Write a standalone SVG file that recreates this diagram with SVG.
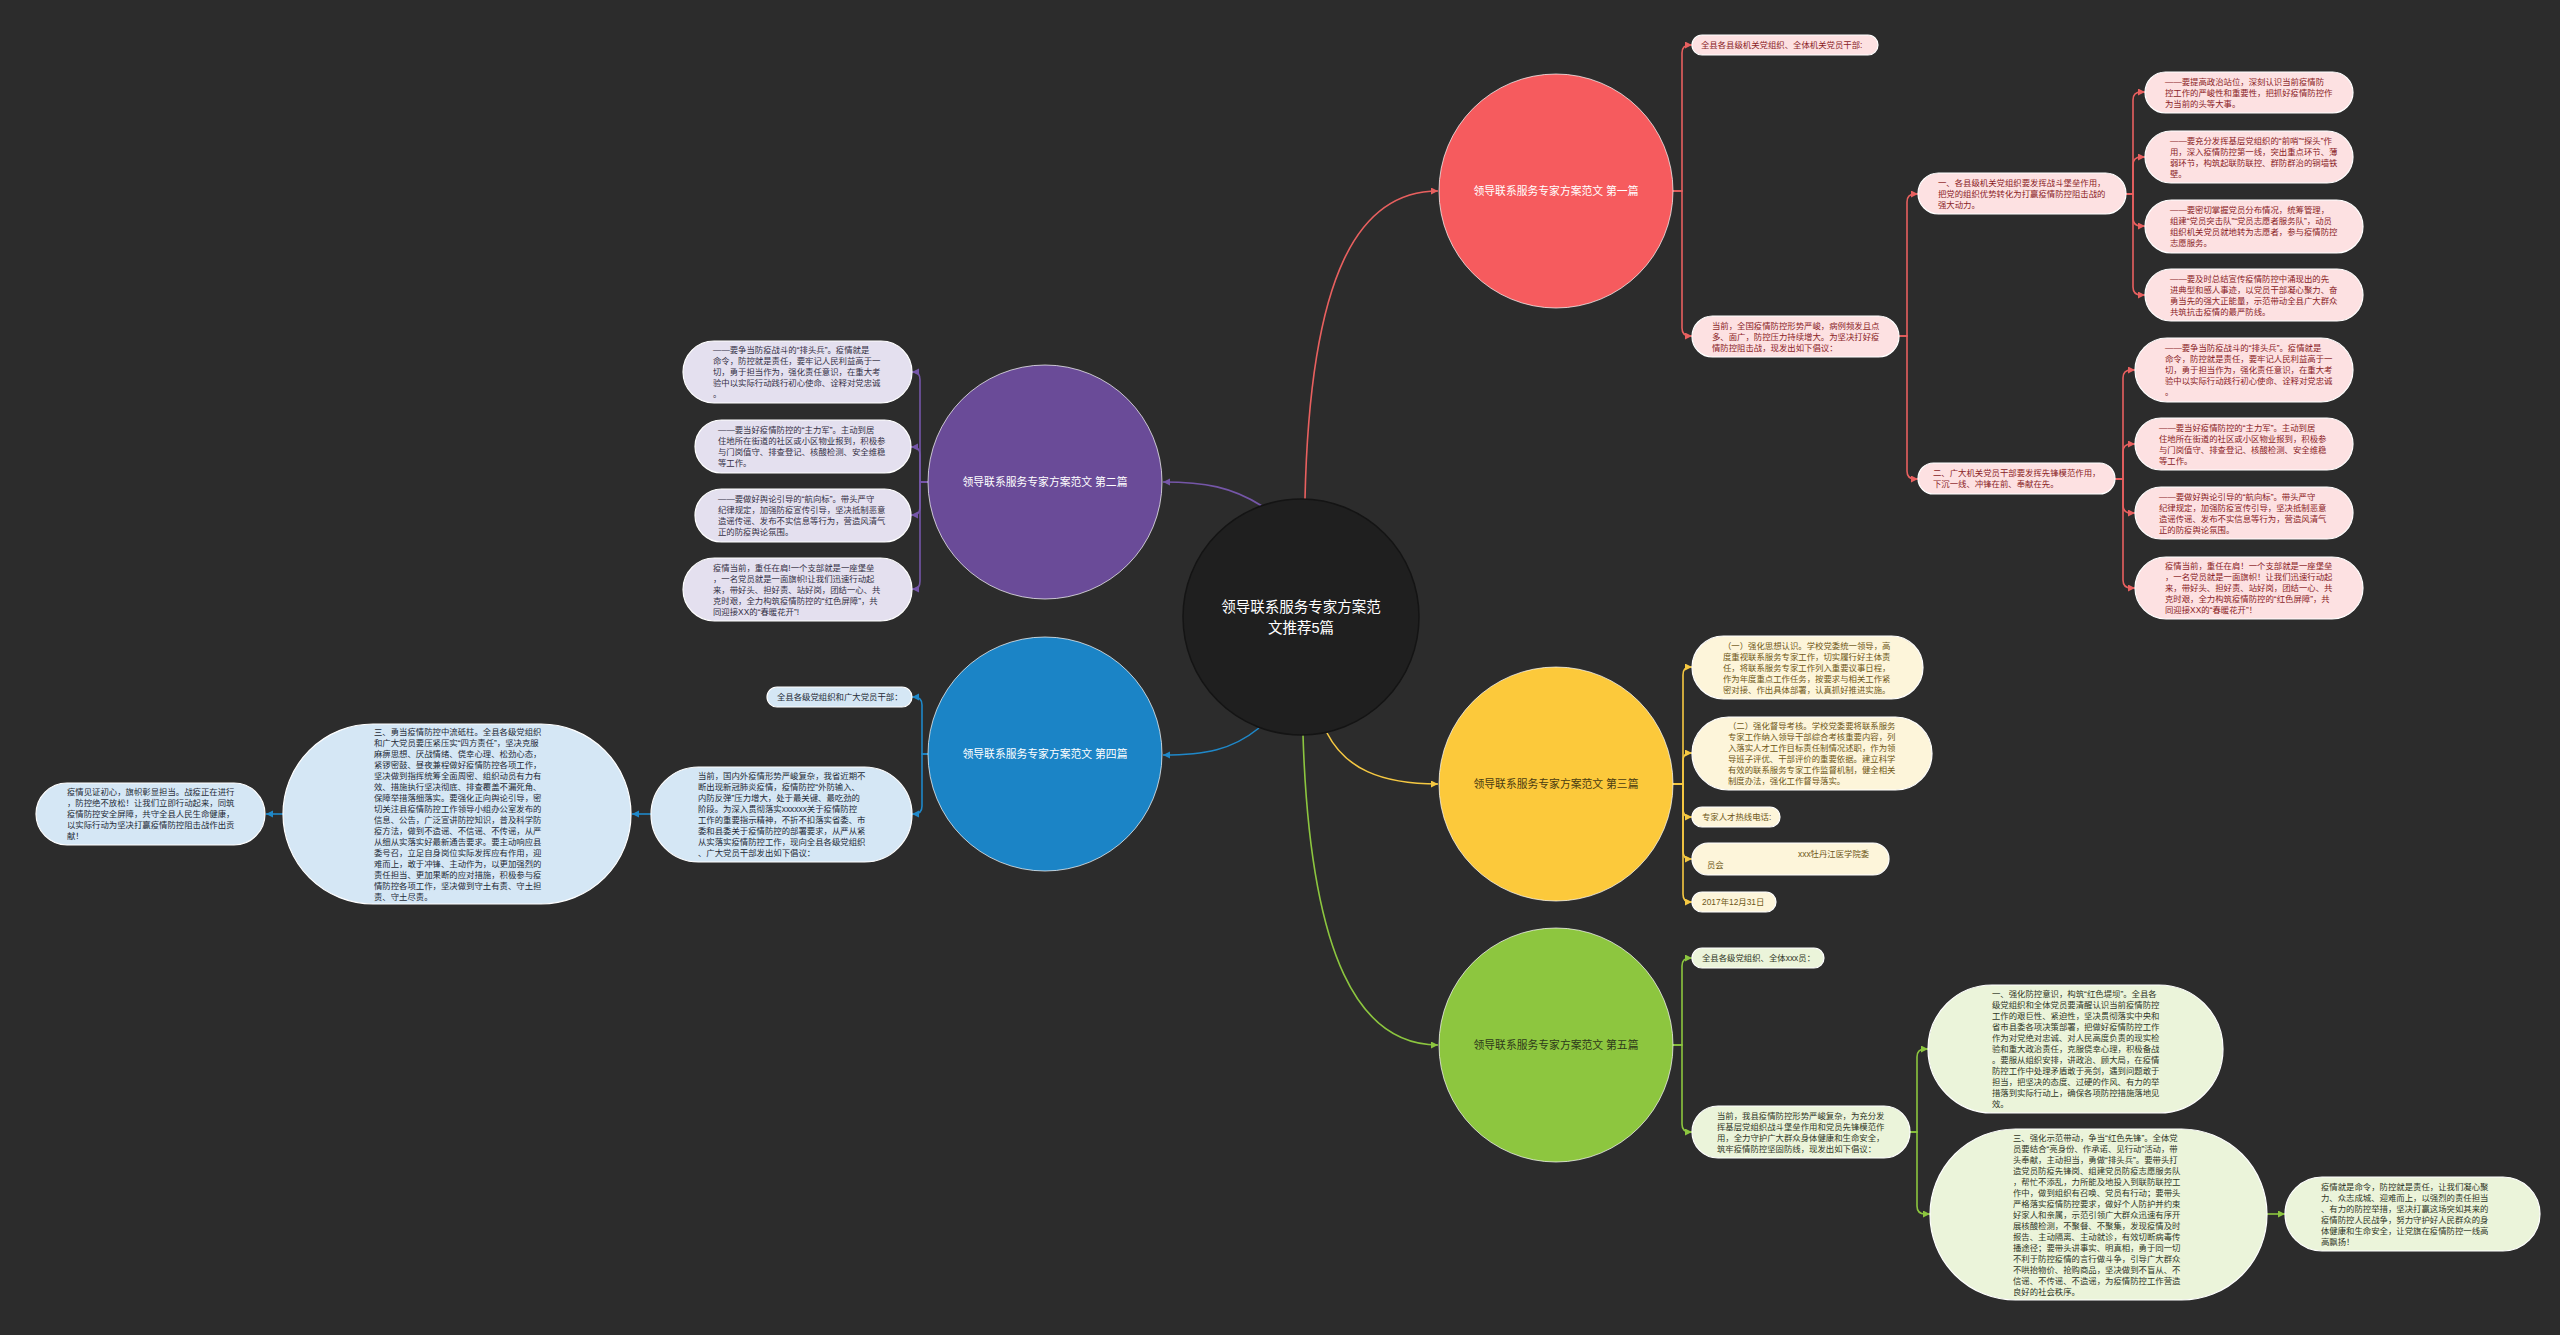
<svg xmlns="http://www.w3.org/2000/svg" width="2560" height="1335" viewBox="0 0 2560 1335">
<defs>
<style>
.t{font-family:"Liberation Sans","Noto Sans CJK SC",sans-serif;font-size:8.4px}
.lbl{font-family:"Liberation Sans","Noto Sans CJK SC",sans-serif;font-size:10.8px;text-anchor:middle}
.ctr{font-family:"Liberation Sans","Noto Sans CJK SC",sans-serif;font-size:14.5px;text-anchor:middle;fill:#ffffff}
.nr rect{fill:#fde1e2;stroke:#ffffff;stroke-width:1.2}
.nr text{fill:#8a1c1f}
.np rect{fill:#e4e0ef;stroke:#ffffff;stroke-width:1.2}
.np text{fill:#343046}
.nb rect{fill:#d5e7f5;stroke:#ffffff;stroke-width:1.2}
.nb text{fill:#1e2a36}
.ny rect{fill:#fdf5da;stroke:#ffffff;stroke-width:1.2}
.ny text{fill:#6e5716}
.ng rect{fill:#ebf4da;stroke:#ffffff;stroke-width:1.2}
.ng text{fill:#2f3626}
.cr{fill:none;stroke:#e8605f;stroke-width:1.6;marker-end:url(#ar)}
.cp{fill:none;stroke:#7556a8;stroke-width:1.6;marker-end:url(#ap)}
.cb{fill:none;stroke:#1f88c9;stroke-width:1.6;marker-end:url(#ab)}
.cy{fill:none;stroke:#f5c842;stroke-width:1.6;marker-end:url(#ay)}
.cg{fill:none;stroke:#8cc63f;stroke-width:1.6;marker-end:url(#ag)}
</style>
<marker id="ar" markerUnits="userSpaceOnUse" markerWidth="8" markerHeight="8" refX="7" refY="3.5" orient="auto"><path d="M0,0 L7,3.5 L0,7 z" fill="#e8605f"/></marker>
<marker id="ap" markerUnits="userSpaceOnUse" markerWidth="8" markerHeight="8" refX="7" refY="3.5" orient="auto"><path d="M0,0 L7,3.5 L0,7 z" fill="#7556a8"/></marker>
<marker id="ab" markerUnits="userSpaceOnUse" markerWidth="8" markerHeight="8" refX="7" refY="3.5" orient="auto"><path d="M0,0 L7,3.5 L0,7 z" fill="#1f88c9"/></marker>
<marker id="ay" markerUnits="userSpaceOnUse" markerWidth="8" markerHeight="8" refX="7" refY="3.5" orient="auto"><path d="M0,0 L7,3.5 L0,7 z" fill="#f5c842"/></marker>
<marker id="ag" markerUnits="userSpaceOnUse" markerWidth="8" markerHeight="8" refX="7" refY="3.5" orient="auto"><path d="M0,0 L7,3.5 L0,7 z" fill="#8cc63f"/></marker>
</defs>
<rect x="0" y="0" width="2560" height="1335" fill="#2c2c2c"/>

<g id="connectors">
<path class="cr" d="M1305,499 C1310,270 1360,191 1438,191"/>
<path class="cp" d="M1262,506 C1232,487 1205,482 1163,482"/>
<path class="cb" d="M1259,728 C1232,750 1205,755 1163,755"/>
<path class="cy" d="M1327,733 C1345,768 1380,784 1438,784"/>
<path class="cg" d="M1303,735 C1310,960 1360,1045 1438,1045"/>

<path class="cr" d="M1673,191 L1682,191 L1682,53 Q1682,45 1690,45 L1692,45"/>
<path class="cr" d="M1673,191 L1682,191 L1682,328 Q1682,336 1690,336 L1692,336"/>
<path class="cr" d="M1899,336 L1907,336 L1907,202 Q1907,194 1915,194 L1918,194"/>
<path class="cr" d="M1899,336 L1907,336 L1907,471 Q1907,479 1915,479 L1918,479"/>
<path class="cr" d="M2126,194 L2133,194 L2133,100 Q2133,92 2141,92 L2145,92"/>
<path class="cr" d="M2126,194 L2133,194 L2133,165 Q2133,157 2141,157 L2145,157"/>
<path class="cr" d="M2126,194 L2133,194 L2133,218 Q2133,226 2141,226 L2145,226"/>
<path class="cr" d="M2126,194 L2133,194 L2133,287 Q2133,295 2141,295 L2145,295"/>
<path class="cr" d="M2115,479 L2123,479 L2123,378 Q2123,370 2131,370 L2135,370"/>
<path class="cr" d="M2115,479 L2123,479 L2123,452 Q2123,444 2131,444 L2135,444"/>
<path class="cr" d="M2115,479 L2123,479 L2123,505 Q2123,513 2131,513 L2135,513"/>
<path class="cr" d="M2115,479 L2123,479 L2123,580 Q2123,588 2131,588 L2135,588"/>

<path class="cp" d="M928,482 L920,482 L920,380 Q920,372 914,372 L912,372"/>
<path class="cp" d="M928,482 L920,482 L920,455 Q920,447 913,447 L911,447"/>
<path class="cp" d="M928,482 L920,482 L920,507 Q920,515 913,515 L911,515"/>
<path class="cp" d="M928,482 L920,482 L920,581 Q920,589 914,589 L912,589"/>

<path class="cb" d="M928,754 L922,754 L922,705 Q922,697 914,697 L912,697"/>
<path class="cb" d="M928,754 L922,754 L922,806 Q922,814 914,814 L912,814"/>
<path class="cb" d="M651,814 L632,814"/>
<path class="cb" d="M283,814 L266,814"/>

<path class="cy" d="M1673,784 L1683,784 L1683,675 Q1683,667 1690,667 L1692,667"/>
<path class="cy" d="M1673,784 L1683,784 L1683,761 Q1683,753 1690,753 L1692,753"/>
<path class="cy" d="M1673,784 L1683,784 L1683,809 Q1683,817 1690,817 L1692,817"/>
<path class="cy" d="M1673,784 L1683,784 L1683,851 Q1683,859 1690,859 L1692,859"/>
<path class="cy" d="M1673,784 L1683,784 L1683,894 Q1683,902 1690,902 L1692,902"/>

<path class="cg" d="M1673,1045 L1682,1045 L1682,966 Q1682,958 1690,958 L1692,958"/>
<path class="cg" d="M1673,1045 L1682,1045 L1682,1124 Q1682,1132 1690,1132 L1692,1132"/>
<path class="cg" d="M1910,1132 L1917,1132 L1917,1057 Q1917,1049 1925,1049 L1928,1049"/>
<path class="cg" d="M1910,1132 L1917,1132 L1917,1206 Q1917,1214 1925,1214 L1930,1214"/>
<path class="cg" d="M2267,1214 L2285,1214"/>
</g>

<g id="center"><circle cx="1301" cy="617" r="118" fill="#1f1f1f" stroke="#141414" stroke-width="1.5"/>
<text class="ctr"><tspan x="1301" y="612">领导联系服务专家方案范</tspan><tspan x="1301" y="633">文推荐5篇</tspan></text></g>

<g id="b1"><circle cx="1556" cy="191" r="117" fill="#f65b5e" stroke="#ffffff" stroke-opacity=".7"/><text class="lbl" x="1556" y="195" fill="#ffffff">领导联系服务专家方案范文 第一篇</text></g>
<g id="b2"><circle cx="1045" cy="482" r="117" fill="#6a4b98" stroke="#ffffff" stroke-opacity=".7"/><text class="lbl" x="1045" y="486" fill="#ffffff">领导联系服务专家方案范文 第二篇</text></g>
<g id="b3"><circle cx="1556" cy="784" r="117" fill="#fcc93b" stroke="#ffffff" stroke-opacity=".7"/><text class="lbl" x="1556" y="788" fill="#4a3c12">领导联系服务专家方案范文 第三篇</text></g>
<g id="b4"><circle cx="1045" cy="754" r="117" fill="#1b84c6" stroke="#ffffff" stroke-opacity=".7"/><text class="lbl" x="1045" y="758" fill="#ffffff">领导联系服务专家方案范文 第四篇</text></g>
<g id="b5"><circle cx="1556" cy="1045" r="117" fill="#8dc63f" stroke="#ffffff" stroke-opacity=".7"/><text class="lbl" x="1556" y="1049" fill="#2e3a1a">领导联系服务专家方案范文 第五篇</text></g>

<g id="a1" class="nr"><rect x="1692" y="35" width="186" height="20" rx="10"/><text class="t" x="1701" y="48">全县各县级机关党组织、全体机关党员干部:</text></g>
<g id="a2" class="nr"><rect x="1692" y="316" width="207" height="41" rx="20.5"/><text class="t"><tspan x="1712" y="328.5">当前，全国疫情防控形势严峻，病例频发且点</tspan><tspan x="1712" y="339.5">多、面广，防控压力持续增大。为坚决打好疫</tspan><tspan x="1712" y="350.5">情防控阻击战，现发出如下倡议：</tspan></text></g>
<g id="bb1" class="nr"><rect x="1918" y="173" width="208" height="41" rx="20.5"/><text class="t"><tspan x="1938" y="185.5">一、各县级机关党组织要发挥战斗堡垒作用，</tspan><tspan x="1938" y="196.5">把党的组织优势转化为打赢疫情防控阻击战的</tspan><tspan x="1938" y="207.5">强大动力。</tspan></text></g>
<g id="bb2" class="nr"><rect x="1918" y="463" width="197" height="31" rx="15.5"/><text class="t"><tspan x="1933" y="476">二、广大机关党员干部要发挥先锋模范作用，</tspan><tspan x="1933" y="487">下沉一线、冲锋在前、奉献在先。</tspan></text></g>
<g id="c1" class="nr"><rect x="2145" y="72" width="208" height="41" rx="20.5"/><text class="t"><tspan x="2165" y="84.5">——要提高政治站位，深刻认识当前疫情防</tspan><tspan x="2165" y="95.5">控工作的严峻性和重要性，把抓好疫情防控作</tspan><tspan x="2165" y="106.5">为当前的头等大事。</tspan></text></g>
<g id="c2" class="nr"><rect x="2145" y="131" width="208" height="52" rx="26"/><text class="t"><tspan x="2170" y="143.5">——要充分发挥基层党组织的“前哨”“探头”作</tspan><tspan x="2170" y="154.5">用，深入疫情防控第一线，突出重点环节、薄</tspan><tspan x="2170" y="165.5">弱环节，构筑起联防联控、群防群治的铜墙铁</tspan><tspan x="2170" y="176.5">壁。</tspan></text></g>
<g id="c3" class="nr"><rect x="2145" y="200" width="218" height="53" rx="26.5"/><text class="t"><tspan x="2170" y="213">——要密切掌握党员分布情况，统筹管理，</tspan><tspan x="2170" y="224">组建“党员突击队”“党员志愿者服务队”，动员</tspan><tspan x="2170" y="235">组织机关党员就地转为志愿者，参与疫情防控</tspan><tspan x="2170" y="246">志愿服务。</tspan></text></g>
<g id="c4" class="nr"><rect x="2145" y="269" width="218" height="52" rx="26"/><text class="t"><tspan x="2170" y="281.5">——要及时总结宣传疫情防控中涌现出的先</tspan><tspan x="2170" y="292.5">进典型和感人事迹，以党员干部凝心聚力、奋</tspan><tspan x="2170" y="303.5">勇当先的强大正能量，示范带动全县广大群众</tspan><tspan x="2170" y="314.5">共筑抗击疫情的最严防线。</tspan></text></g>
<g id="d1" class="nr"><rect x="2135" y="338" width="218" height="64" rx="32"/><text class="t"><tspan x="2165" y="351">——要争当防疫战斗的“排头兵”。疫情就是</tspan><tspan x="2165" y="362">命令，防控就是责任，要牢记人民利益高于一</tspan><tspan x="2165" y="373">切，勇于担当作为，强化责任意识，在重大考</tspan><tspan x="2165" y="384">验中以实际行动践行初心使命、诠释对党忠诚</tspan><tspan x="2165" y="395">。</tspan></text></g>
<g id="d2" class="nr"><rect x="2135" y="418" width="218" height="52" rx="26"/><text class="t"><tspan x="2159" y="430.5">——要当好疫情防控的“主力军”。主动到居</tspan><tspan x="2159" y="441.5">住地所在街道的社区或小区物业报到，积极参</tspan><tspan x="2159" y="452.5">与门岗值守、排查登记、核酸检测、安全维稳</tspan><tspan x="2159" y="463.5">等工作。</tspan></text></g>
<g id="d3" class="nr"><rect x="2135" y="487" width="218" height="52" rx="26"/><text class="t"><tspan x="2159" y="499.5">——要做好舆论引导的“航向标”。带头严守</tspan><tspan x="2159" y="510.5">纪律规定，加强防疫宣传引导，坚决抵制恶意</tspan><tspan x="2159" y="521.5">造谣传谣、发布不实信息等行为，营造风清气</tspan><tspan x="2159" y="532.5">正的防疫舆论氛围。</tspan></text></g>
<g id="d4" class="nr"><rect x="2135" y="557" width="228" height="62" rx="31"/><text class="t"><tspan x="2165" y="569">疫情当前，重任在肩！一个支部就是一座堡垒</tspan><tspan x="2165" y="580">，一名党员就是一面旗帜！让我们迅速行动起</tspan><tspan x="2165" y="591">来，带好头、担好责、站好岗，团结一心、共</tspan><tspan x="2165" y="602">克时艰，全力构筑疫情防控的“红色屏障”，共</tspan><tspan x="2165" y="613">同迎接XX的“春暖花开”！</tspan></text></g>

<g id="p1" class="np"><rect x="683" y="341" width="229" height="62" rx="31"/><text class="t"><tspan x="713" y="353">——要争当防疫战斗的“排头兵”。疫情就是</tspan><tspan x="713" y="364">命令，防控就是责任，要牢记人民利益高于一</tspan><tspan x="713" y="375">切，勇于担当作为，强化责任意识，在重大考</tspan><tspan x="713" y="386">验中以实际行动践行初心使命、诠释对党忠诚</tspan><tspan x="713" y="397">。</tspan></text></g>
<g id="p2" class="np"><rect x="695" y="420" width="216" height="53" rx="26.5"/><text class="t"><tspan x="718" y="433">——要当好疫情防控的“主力军”。主动到居</tspan><tspan x="718" y="444">住地所在街道的社区或小区物业报到，积极参</tspan><tspan x="718" y="455">与门岗值守、排查登记、核酸检测、安全维稳</tspan><tspan x="718" y="466">等工作。</tspan></text></g>
<g id="p3" class="np"><rect x="695" y="489" width="216" height="53" rx="26.5"/><text class="t"><tspan x="718" y="502">——要做好舆论引导的“航向标”。带头严守</tspan><tspan x="718" y="513">纪律规定，加强防疫宣传引导，坚决抵制恶意</tspan><tspan x="718" y="524">造谣传谣、发布不实信息等行为，营造风清气</tspan><tspan x="718" y="535">正的防疫舆论氛围。</tspan></text></g>
<g id="p4" class="np"><rect x="683" y="558" width="229" height="63" rx="31.5"/><text class="t"><tspan x="713" y="570.5">疫情当前，重任在肩!一个支部就是一座堡垒</tspan><tspan x="713" y="581.5">，一名党员就是一面旗帜!让我们迅速行动起</tspan><tspan x="713" y="592.5">来，带好头、担好责、站好岗，团结一心、共</tspan><tspan x="713" y="603.5">克时艰，全力构筑疫情防控的“红色屏障”，共</tspan><tspan x="713" y="614.5">同迎接XX的“春暖花开”!</tspan></text></g>

<g id="q1" class="nb"><rect x="767" y="687" width="145" height="20" rx="10"/><text class="t" x="777" y="700">全县各级党组织和广大党员干部：</text></g>
<g id="q2" class="nb"><rect x="651" y="767" width="261" height="95" rx="47.5"/><text class="t"><tspan x="698" y="779">当前，国内外疫情形势严峻复杂，我省近期不</tspan><tspan x="698" y="790">断出现新冠肺炎疫情，疫情防控“外防输入、</tspan><tspan x="698" y="801">内防反弹”压力增大，处于最关键、最吃劲的</tspan><tspan x="698" y="812">阶段。为深入贯彻落实xxxxxx关于疫情防控</tspan><tspan x="698" y="823">工作的重要指示精神，不折不扣落实省委、市</tspan><tspan x="698" y="834">委和县委关于疫情防控的部署要求，从严从紧</tspan><tspan x="698" y="845">从实落实疫情防控工作，现向全县各级党组织</tspan><tspan x="698" y="856">、广大党员干部发出如下倡议：</tspan></text></g>
<g id="q3" class="nb"><rect x="283" y="724" width="348" height="180" rx="90"/><text class="t"><tspan x="374" y="734.5">三、勇当疫情防控中流砥柱。全县各级党组织</tspan><tspan x="374" y="745.5">和广大党员要压紧压实“四方责任”，坚决克服</tspan><tspan x="374" y="756.5">麻痹思想、厌战情绪、侥幸心理、松劲心态，</tspan><tspan x="374" y="767.5">紧锣密鼓、昼夜兼程做好疫情防控各项工作，</tspan><tspan x="374" y="778.5">坚决做到指挥统筹全面周密、组织动员有力有</tspan><tspan x="374" y="789.5">效、措施执行坚决彻底、排查覆盖不漏死角、</tspan><tspan x="374" y="800.5">保障举措落细落实。要强化正向舆论引导，密</tspan><tspan x="374" y="811.5">切关注县疫情防控工作领导小组办公室发布的</tspan><tspan x="374" y="822.5">信息、公告，广泛宣讲防控知识，普及科学防</tspan><tspan x="374" y="833.5">疫方法，做到不造谣、不信谣、不传谣，从严</tspan><tspan x="374" y="844.5">从细从实落实好最新通告要求。要主动响应县</tspan><tspan x="374" y="855.5">委号召，立足自身岗位实际发挥应有作用，迎</tspan><tspan x="374" y="866.5">难而上，敢于冲锋、主动作为，以更加强烈的</tspan><tspan x="374" y="877.5">责任担当、更加果断的应对措施，积极参与疫</tspan><tspan x="374" y="888.5">情防控各项工作，坚决做到守土有责、守土担</tspan><tspan x="374" y="899.5">责、守土尽责。</tspan></text></g>
<g id="q4" class="nb"><rect x="36" y="783" width="229" height="62" rx="31"/><text class="t"><tspan x="67" y="795">疫情见证初心，旗帜彰显担当。战疫正在进行</tspan><tspan x="67" y="806">，防控绝不放松！让我们立即行动起来，同筑</tspan><tspan x="67" y="817">疫情防控安全屏障，共守全县人民生命健康，</tspan><tspan x="67" y="828">以实际行动为坚决打赢疫情防控阻击战作出贡</tspan><tspan x="67" y="839">献！</tspan></text></g>

<g id="y1" class="ny"><rect x="1692" y="636" width="231" height="63" rx="31.5"/><text class="t"><tspan x="1723" y="648.5">（一）强化思想认识。学校党委统一领导，高</tspan><tspan x="1723" y="659.5">度重视联系服务专家工作，切实履行好主体责</tspan><tspan x="1723" y="670.5">任，将联系服务专家工作列入重要议事日程，</tspan><tspan x="1723" y="681.5">作为年度重点工作任务，按要求与相关工作紧</tspan><tspan x="1723" y="692.5">密对接、作出具体部署，认真抓好推进实施。</tspan></text></g>
<g id="y2" class="ny"><rect x="1692" y="717" width="240" height="73" rx="36.5"/><text class="t"><tspan x="1728" y="729">（二）强化督导考核。学校党委要将联系服务</tspan><tspan x="1728" y="740">专家工作纳入领导干部综合考核重要内容，列</tspan><tspan x="1728" y="751">入落实人才工作目标责任制情况述职，作为领</tspan><tspan x="1728" y="762">导班子评优、干部评价的重要依据。建立科学</tspan><tspan x="1728" y="773">有效的联系服务专家工作监督机制，健全相关</tspan><tspan x="1728" y="784">制度办法，强化工作督导落实。</tspan></text></g>
<g id="y3" class="ny"><rect x="1692" y="807" width="88" height="20" rx="10"/><text class="t" x="1702" y="820">专家人才热线电话:</text></g>
<g id="y4" class="ny"><rect x="1692" y="843" width="197" height="32" rx="16"/><text class="t"><tspan x="1798" y="856.5">xxx牡丹江医学院委</tspan><tspan x="1707" y="867.5">员会</tspan></text></g>
<g id="y5" class="ny"><rect x="1692" y="892" width="84" height="20" rx="10"/><text class="t" x="1702" y="905">2017年12月31日</text></g>

<g id="g1" class="ng"><rect x="1692" y="948" width="132" height="20" rx="10"/><text class="t" x="1702" y="961">全县各级党组织、全体xxx员：</text></g>
<g id="g2" class="ng"><rect x="1692" y="1106" width="218" height="52" rx="26"/><text class="t"><tspan x="1717" y="1118.5">当前，我县疫情防控形势严峻复杂，为充分发</tspan><tspan x="1717" y="1129.5">挥基层党组织战斗堡垒作用和党员先锋模范作</tspan><tspan x="1717" y="1140.5">用，全力守护广大群众身体健康和生命安全，</tspan><tspan x="1717" y="1151.5">筑牢疫情防控坚固防线，现发出如下倡议：</tspan></text></g>
<g id="g3" class="ng"><rect x="1928" y="985" width="295" height="128" rx="64"/><text class="t"><tspan x="1992" y="997">一、强化防控意识，构筑“红色堤坝”。全县各</tspan><tspan x="1992" y="1008">级党组织和全体党员要清醒认识当前疫情防控</tspan><tspan x="1992" y="1019">工作的艰巨性、紧迫性，坚决贯彻落实中央和</tspan><tspan x="1992" y="1030">省市县委各项决策部署，把做好疫情防控工作</tspan><tspan x="1992" y="1041">作为对党绝对忠诚、对人民高度负责的现实检</tspan><tspan x="1992" y="1052">验和重大政治责任，克服侥幸心理，积极备战</tspan><tspan x="1992" y="1063">。要服从组织安排，讲政治、顾大局，在疫情</tspan><tspan x="1992" y="1074">防控工作中处理矛盾敢于亮剑，遇到问题敢于</tspan><tspan x="1992" y="1085">担当，把坚决的态度、过硬的作风、有力的举</tspan><tspan x="1992" y="1096">措落到实际行动上，确保各项防控措施落地见</tspan><tspan x="1992" y="1107">效。</tspan></text></g>
<g id="g4" class="ng"><rect x="1930" y="1129" width="337" height="171" rx="85.5"/><text class="t"><tspan x="2013" y="1140.5">三、强化示范带动，争当“红色先锋”。全体党</tspan><tspan x="2013" y="1151.5">员要结合“亮身份、作承诺、见行动”活动，带</tspan><tspan x="2013" y="1162.5">头奉献，主动担当，勇做“排头兵”。要带头打</tspan><tspan x="2013" y="1173.5">造党员防疫先锋岗、组建党员防疫志愿服务队</tspan><tspan x="2013" y="1184.5">，帮忙不添乱，力所能及地投入到联防联控工</tspan><tspan x="2013" y="1195.5">作中，做到组织有召唤、党员有行动；要带头</tspan><tspan x="2013" y="1206.5">严格落实疫情防控要求，做好个人防护并约束</tspan><tspan x="2013" y="1217.5">好家人和亲属，示范引领广大群众迅速有序开</tspan><tspan x="2013" y="1228.5">展核酸检测，不聚餐、不聚集，发现疫情及时</tspan><tspan x="2013" y="1239.5">报告、主动隔离、主动就诊，有效切断病毒传</tspan><tspan x="2013" y="1250.5">播途径；要带头讲事实、明真相，勇于同一切</tspan><tspan x="2013" y="1261.5">不利于防控疫情的言行做斗争，引导广大群众</tspan><tspan x="2013" y="1272.5">不哄抬物价、抢购商品，坚决做到不盲从、不</tspan><tspan x="2013" y="1283.5">信谣、不传谣、不造谣，为疫情防控工作营造</tspan><tspan x="2013" y="1294.5">良好的社会秩序。</tspan></text></g>
<g id="g5" class="ng"><rect x="2285" y="1177" width="255" height="74" rx="37"/><text class="t"><tspan x="2321" y="1189.5">疫情就是命令，防控就是责任，让我们凝心聚</tspan><tspan x="2321" y="1200.5">力、众志成城、迎难而上，以强烈的责任担当</tspan><tspan x="2321" y="1211.5">、有力的防控举措，坚决打赢这场突如其来的</tspan><tspan x="2321" y="1222.5">疫情防控人民战争，努力守护好人民群众的身</tspan><tspan x="2321" y="1233.5">体健康和生命安全，让党旗在疫情防控一线高</tspan><tspan x="2321" y="1244.5">高飘扬！</tspan></text></g>
</svg>
